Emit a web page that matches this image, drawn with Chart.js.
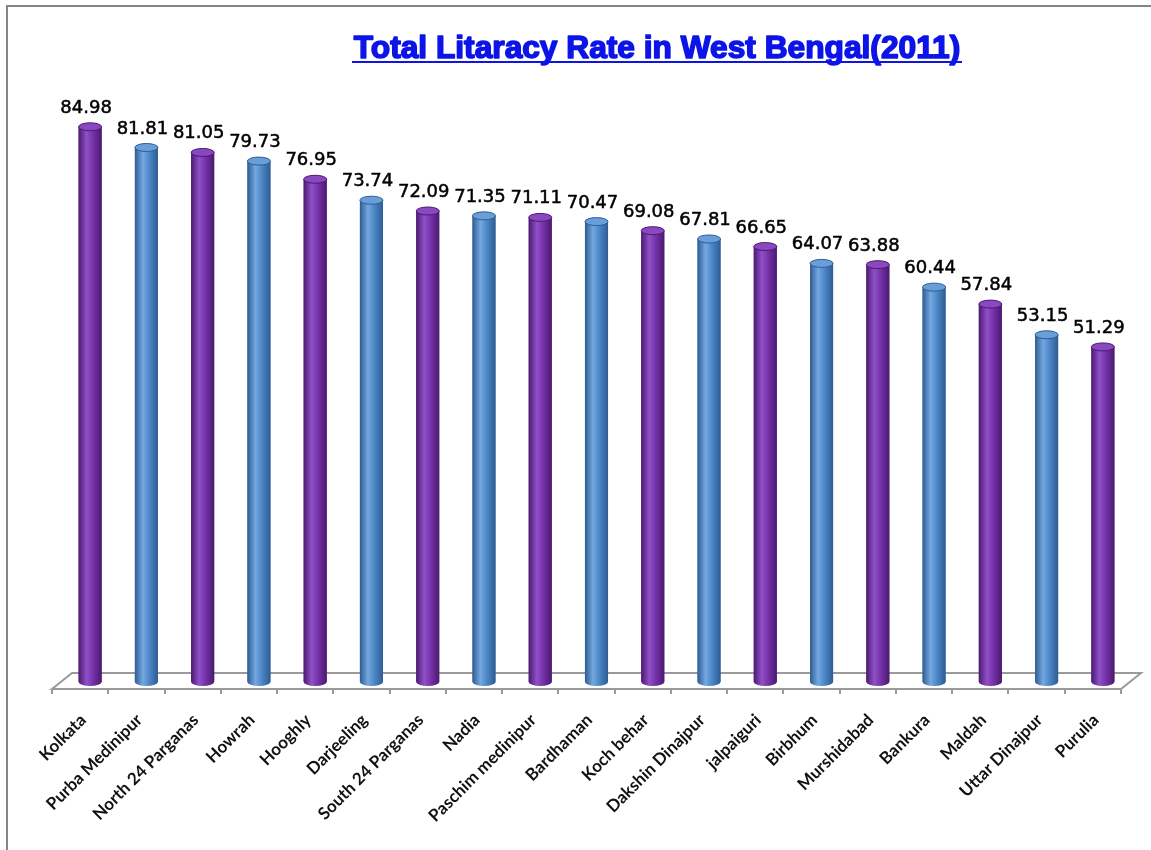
<!DOCTYPE html>
<html>
<head>
<meta charset="utf-8">
<script src="https://cdn.jsdelivr.net/npm/chart.js@4.4.0/dist/chart.umd.min.js"></script>
<style>
  body { margin: 0; background: #fff; }
</style>
</head>
<body>
<canvas id="bar-chart" width="1151" height="850"></canvas>
<script>
const districts = ['Kolkata', 'Purba Medinipur', 'North 24 Parganas', 'Howrah', 'Hooghly', 'Darjeeling',
  'South 24 Parganas', 'Nadia', 'Paschim medinipur', 'Bardhaman', 'Koch behar', 'Dakshin Dinajpur',
  'jalpaiguri', 'Birbhum', 'Murshidabad', 'Bankura', 'Maldah', 'Uttar Dinajpur', 'Purulia'];
const literacy = [84.98, 81.81, 81.05, 79.73, 76.95, 73.74, 72.09, 71.35, 71.11, 70.47,
  69.08, 67.81, 66.65, 64.07, 63.88, 60.44, 57.84, 53.15, 51.29];
const yMin = 0;
const yMax = 90;

const chartTitle = 'Total Litaracy Rate in West Bengal(2011)';

// purple / blue alternate along the row
const purple = { dark: '#4a1a6e', light: '#9050c8', mid: '#7330a6', top: '#8a48c0' };
const blue = { dark: '#2e5c92', light: '#74a8e0', mid: '#4a84c4', top: '#6b9ed8' };
const shades = districts.map((d, i) => i % 2 ? blue : purple);

const cylinderPlugin = {
  id: 'cylinders',
  beforeDraw(chart) {
    const ctx = chart.ctx;
    ctx.save();
    ctx.fillStyle = '#fff';
    ctx.fillRect(0, 0, chart.width, chart.height);
    // frame of the picture
    ctx.strokeStyle = '#858585';
    ctx.lineWidth = 2;
    ctx.beginPath();
    ctx.moveTo(7, chart.height);
    ctx.lineTo(7, 6);
    ctx.lineTo(chart.width, 6);
    ctx.stroke();

    // title, underlined
    ctx.font = 'bold 100px "Liberation Sans"';
    const w100 = ctx.measureText(chartTitle).width;
    const size = 100 * 606 / w100;
    ctx.font = 'bold ' + size.toFixed(1) + 'px "Liberation Sans"';
    ctx.fillStyle = '#0c14e8';
    ctx.strokeStyle = '#0c14e8';
    ctx.lineWidth = 1.6;
    ctx.lineJoin = 'round';
    ctx.textAlign = 'center';
    ctx.textBaseline = 'alphabetic';
    ctx.fillText(chartTitle, 657, 58);
    ctx.strokeText(chartTitle, 657, 58);
    ctx.fillRect(657 - 305, 61, 610, 2);
    ctx.restore();
  },
  beforeDatasetsDraw(chart) {
    const ctx = chart.ctx;
    const a = chart.chartArea;
    const L = a.left, R = a.right, B = a.bottom;
    ctx.save();
    ctx.beginPath();
    ctx.moveTo(L - 10, B + 7);
    ctx.lineTo(L + 10, B - 9);
    ctx.lineTo(R + 10, B - 9);
    ctx.lineTo(R - 10, B + 7);
    ctx.closePath();
    ctx.fillStyle = '#ffffff';
    ctx.fill();
    ctx.strokeStyle = '#9a9a9a';
    ctx.lineWidth = 2;
    ctx.stroke();
    ctx.beginPath();
    const step = (R - L) / districts.length;
    for (let i = 0; i <= districts.length; i++) {
      const x = Math.round(L - 10 + i * step);
      ctx.moveTo(x, B + 7);
      ctx.lineTo(x, B + 12);
    }
    ctx.stroke();
    ctx.restore();
  },
  afterDatasetsDraw(chart) {
    const ctx = chart.ctx;
    const meta = chart.getDatasetMeta(0);
    ctx.save();
    meta.data.forEach((el, i) => {
      const s = shades[i];
      const x = el.x, top = el.y, base = el.base;
      const rx = el.width / 2, ry = 4;
      const g = ctx.createLinearGradient(x - rx, 0, x + rx, 0);
      g.addColorStop(0, s.dark);
      g.addColorStop(0.35, s.light);
      g.addColorStop(0.65, s.mid);
      g.addColorStop(1, s.dark);
      ctx.beginPath();
      ctx.moveTo(x - rx, top);
      ctx.lineTo(x - rx, base);
      ctx.ellipse(x, base, rx, ry, 0, Math.PI, 0, true);
      ctx.lineTo(x + rx, top);
      ctx.closePath();
      ctx.fillStyle = g;
      ctx.fill();
      // lid
      ctx.beginPath();
      ctx.ellipse(x, top, rx, ry, 0, 0, Math.PI * 2);
      ctx.fillStyle = s.top;
      ctx.fill();
      ctx.strokeStyle = s.dark;
      ctx.lineWidth = 1;
      ctx.stroke();

      ctx.fillStyle = '#000';
      ctx.strokeStyle = '#000';
      ctx.lineWidth = 0.5;
      ctx.font = '18px "DejaVu Sans"';
      ctx.textAlign = 'center';
      ctx.textBaseline = 'alphabetic';
      ctx.fillText(literacy[i].toFixed(2), x - 4, top - 14);
      ctx.strokeText(literacy[i].toFixed(2), x - 4, top - 14);
    });
    ctx.restore();
  }
};

new Chart(document.getElementById('bar-chart'), {
  type: 'bar',
  data: {
    labels: districts,
    datasets: [{
      label: 'Literacy rate',
      data: literacy,
      backgroundColor: shades.map(s => s.mid),
      borderWidth: 0,
      barPercentage: 0.41,
      categoryPercentage: 1
    }]
  },
  options: {
    responsive: false,
    animation: false,
    devicePixelRatio: 1,
    layout: { padding: { left: 62, right: 20, top: 94, bottom: 0 } },
    plugins: {
      legend: { display: false },
      title: { display: false },
      tooltip: { enabled: false }
    },
    scales: {
      x: {
        offset: true,
        grid: { display: false },
        border: { display: false },
        ticks: {
          autoSkip: false,
          minRotation: 45,
          maxRotation: 45,
          labelOffset: -7,
          padding: 20,
          color: '#111',
          font: { family: 'Lato', weight: 'bold', size: 17 }
        },
        afterFit(scale) {
          scale.height = 850 - 682;
          scale.paddingLeft = 0;
          scale.paddingRight = 0;
        }
      },
      y: { display: false, min: yMin, max: yMax }
    }
  },
  plugins: [cylinderPlugin]
});
</script>
</body>
</html>
